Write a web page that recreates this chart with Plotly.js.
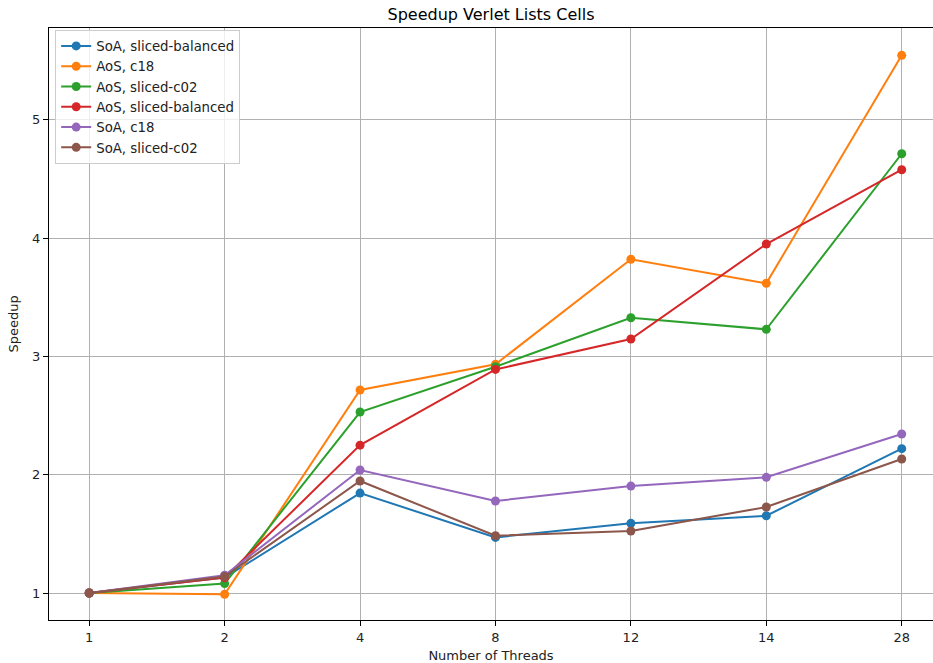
<!DOCTYPE html>
<html>
<head>
<meta charset="utf-8">
<script src="https://cdn.plot.ly/plotly-3.0.1.min.js"></script>
<style>html,body{margin:0;padding:0;background:#fff;}#chart{width:933px;height:663px;}</style>
</head>
<body>
<div id="chart"></div>
<script>
const threads = ['1', '2', '4', '8', '12', '14', '28'];
const seriesNames = ['SoA, sliced-balanced', 'AoS, c18', 'AoS, sliced-c02', 'AoS, sliced-balanced', 'SoA, c18', 'SoA, sliced-c02'];
const soaSlicedBalanced = [1.0, 1.13, 1.845, 1.47, 1.589, 1.653, 2.22];
const aosC18 = [1.0, 0.99, 2.716, 2.933, 3.821, 3.618, 5.545];
const aosSlicedC02 = [1.0, 1.08, 2.53, 2.913, 3.327, 3.229, 4.713];
const aosSlicedBalanced = [1.0, 1.13, 2.25, 2.89, 3.147, 3.95, 4.578];
const soaC18 = [1.0, 1.15, 2.04, 1.778, 1.904, 1.978, 2.344];
const soaSlicedC02 = [1.0, 1.14, 1.947, 1.484, 1.524, 1.727, 2.133];
const colors = ['#1f77b4', '#ff7f0e', '#2ca02c', '#d62728', '#9467bd', '#8c564b'];
const allValues = [soaSlicedBalanced, aosC18, aosSlicedC02, aosSlicedBalanced, soaC18, soaSlicedC02];

const traces = allValues.map((vals, i) => ({
  x: threads,
  y: vals,
  name: seriesNames[i],
  type: 'scatter',
  mode: 'lines+markers',
  line: {color: colors[i], width: 2},
  marker: {color: colors[i], size: 9}
}));

const font = {family: 'DejaVu Sans, sans-serif', size: 13, color: '#222'};
const legendFont = {family: 'DejaVu Sans, sans-serif', size: 13.3, color: '#222'};
const layout = {
  width: 933, height: 663,
  margin: {l: 48.5, r: 0, t: 28, b: 43},
  paper_bgcolor: '#fff', plot_bgcolor: '#fff',
  font: font,
  title: {text: 'Speedup Verlet Lists Cells', font: {family: 'DejaVu Sans, sans-serif', size: 16, color: '#000'}, x: 0.5, xanchor: 'center', y: 0.979, yanchor: 'middle', xref: 'paper'},
  xaxis: {
    type: 'category', range: [-0.297, 6.231],
    showgrid: true, gridcolor: '#b0b0b0', gridwidth: 1,
    showline: true, linecolor: '#000', linewidth: 1, mirror: true,
    ticks: 'outside', ticklen: 5, tickcolor: '#000', tickwidth: 1,
    tickfont: font, zeroline: false,
    title: {text: 'Number of Threads', font: font, standoff: 8}
  },
  yaxis: {
    range: [0.772, 5.776],
    tickvals: [1, 2, 3, 4, 5], ticktext: ['1', '2', '3', '4', '5'],
    showgrid: true, gridcolor: '#b0b0b0', gridwidth: 1,
    showline: true, linecolor: '#000', linewidth: 1, mirror: false,
    ticks: 'outside', ticklen: 5, tickcolor: '#000', tickwidth: 1,
    tickfont: font, zeroline: false,
    title: {text: 'Speedup', font: font, standoff: 10}
  },
  legend: {
    x: 0.007, y: 0.997, xanchor: 'left', yanchor: 'top',
    bgcolor: 'rgba(255,255,255,0.8)', bordercolor: '#cccccc', borderwidth: 1,
    font: legendFont, tracegroupgap: 0, itemwidth: 30
  },
  showlegend: true
};
Plotly.newPlot('chart', traces, layout, {displayModeBar: false, staticPlot: true});
</script>
</body>
</html>
